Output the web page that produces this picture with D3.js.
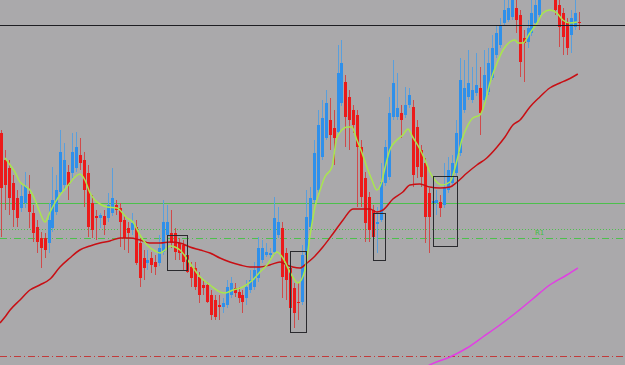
<!DOCTYPE html>
<html>
<head>
<meta charset="utf-8">
<script src="https://cdn.jsdelivr.net/npm/d3@7"></script>
<style>
  body { margin: 0; background: #aaa9ab; }
  svg { display: block; }
</style>
</head>
<body>
<div id="chart"></div>
<script>

// candle data, one entry per bar (price units)
var open_ = [232,205,197,182,167,157,162,171,152,138,127,127,122,137,153,173,180,193,192,197,
  210,205,192,162,149,147,149,147,152,160,157,145,137,135,138,122,107,102,107,103,
  102,113,130,132,132,122,120,110,98,97,88,80,80,70,65,60,58,60,70,77,
  73,70,67,75,78,87,105,110,110,113,130,137,112,97,77,63,63,110,138,165,
  175,208,227,245,237,233,262,283,268,255,250,218,187,168,155,141,145,182,188,248,
  248,252,250,260,258,238,215,202,172,162,162,163,160,175,182,192,212,255,268,265,
  272,277,265,273,287,310,320,342,345,348,357,350,327,323,332,342,350,370,375,385,
  370,360,352,343,330,338,343];
var high_ = [235,215,205,190,175,180,193,190,160,145,133,132,162,198,190,235,222,200,232,233,
  227,213,200,170,155,152,155,172,197,165,162,150,143,152,145,127,115,115,113,110,
  130,165,160,155,137,127,125,115,103,103,93,85,83,75,70,70,67,85,88,82,
  78,75,85,95,103,128,125,122,117,168,158,143,117,102,82,82,120,175,178,225,
  255,265,275,267,255,320,325,290,275,260,255,225,193,173,160,158,202,225,268,305,
  292,260,278,277,265,245,220,207,177,180,175,170,202,208,210,245,307,305,315,298,
  312,298,315,317,330,340,347,365,370,373,365,355,335,345,370,370,375,390,395,390,
  375,365,357,347,355,365,353];
var low_ = [128,155,150,138,138,153,157,137,123,112,97,107,112,133,150,170,175,165,187,193,
  195,158,128,127,125,137,130,143,149,150,118,115,112,130,100,78,85,95,92,90,
  99,110,128,117,105,105,95,92,78,75,62,70,62,45,45,45,52,57,67,68,
  62,52,60,72,75,83,102,108,107,110,127,67,65,53,37,45,60,107,135,162,
  172,205,225,215,200,230,259,218,215,232,158,158,123,123,122,112,143,179,185,245,
  245,227,247,257,178,187,178,122,112,148,150,148,157,172,179,189,209,252,265,262,
  269,230,262,270,285,307,317,339,343,345,332,288,283,317,329,339,347,367,368,366,
  350,318,310,310,312,335,335];
var close_ = [177,180,167,155,147,169,179,153,132,123,117,115,145,165,175,213,205,180,213,218,
  202,175,138,135,147,150,140,160,167,155,143,127,132,142,102,87,97,105,100,98,
  117,143,143,122,113,112,103,93,87,78,70,77,63,50,48,58,62,78,82,72,
  67,63,78,85,95,117,117,113,112,147,143,88,85,57,52,62,110,148,167,212,
  240,247,262,230,227,292,302,248,245,240,218,168,142,135,128,143,183,218,252,282,
  257,245,260,270,190,198,188,148,148,164,165,157,178,195,202,232,285,277,282,275,
  280,252,290,302,317,332,340,355,357,365,345,303,322,337,352,360,365,385,390,370,
  355,338,328,317,347,352,342];

// fast moving average (green), read as bar index / price pairs
var green_idx = [1.0,2.3,3.5,4.8,6.1,7.3,8.6,9.8,11.1,12.4,13.6,14.9,16.2,17.4,18.7,19.9,21.2,22.5,23.7,25.0,
  26.8,29.3,31.8,33.3,35.1,36.9,38.9,40.2,41.4,42.7,43.9,45.2,47.7,50.3,52.8,55.3,56.6,58.6,61.1,63.6,
  65.4,67.2,69.7,71.2,73.0,75.0,76.8,78.0,79.3,80.6,81.8,83.6,84.8,86.1,87.4,88.6,89.9,91.2,92.4,93.7,
  94.9,96.0,97.0,98.2,100.0,101.5,102.8,104.0,105.8,107.1,108.3,109.6,111.4,113.4,115.2,116.4,117.7,119.2,121.0,122.2,
  123.5,125.3,126.8,128.5,129.8,130.6,131.8,133.6,135.4,136.9,138.6,140.4,141.9,143.7,145.5];
var green_val = [207,200,193,183,179,175,165,153,143,153,162,170,176,182,188,191,185,172,165,161,
  158,157,147,143,130,120,114,112,115,119,118,115,102,88,80,73,72,75,78,85,
  93,100,113,107,93,82,95,128,158,175,188,198,227,235,238,238,225,212,198,185,
  175,181,197,215,225,230,236,228,216,205,193,185,180,183,205,225,238,247,250,262,
  282,302,315,323,325,322,322,332,342,352,355,352,345,342,343];

// slow moving average (red)
var red_idx = [-0.25,1.0,2.3,4.8,7.3,9.8,12.4,14.9,17.4,19.9,22.5,25.0,27.5,30.1,32.6,35.1,37.6,40.2,42.7,45.2,
  47.7,50.3,52.8,55.3,57.8,60.4,62.9,65.4,67.9,70.5,72.2,73.7,75.5,77.3,78.8,81.3,83.8,86.4,88.9,91.4,
  93.2,94.9,96.5,99.0,101.5,103.3,105.8,108.3,110.9,113.4,115.2,117.7,120.2,122.7,125.3,127.3,129.3,131.1,133.6,136.1,
  138.6,141.2,142.9,144.4,145.7];
var red_val = [42,48,55,65,75,80,86,98,107,115,119,122,124,127,127,125,122,122,123,122,
  118,115,112,107,103,100,98,98,100,103,100,98,97,102,107,118,131,145,156,156,
  156,153,155,166,173,180,181,178,177,178,183,192,200,207,218,228,240,245,258,268,
  277,282,285,288,291];

// very slow moving average (magenta)
var mag_idx = [107.1,108.3,113.4,117.7,121.7,126.0,130.3,134.3,138.6,142.9,145.7];
var mag_val = [-3,0,8,17,28,40,53,66,80,90,97];

// horizontal levels
var levels = [
  {price: 162, kind: "solid"},
  {price: 136, kind: "dot"},
  {price: 127, kind: "dashdot"}
];
var black_level = 340;
var red_level = 9;

// marked zones: first bar, last bar, top price, bottom price
var box_from = [42, 73, 94, 109];
var box_to = [47, 77, 97, 115];
var box_top = [130, 114, 152, 189];
var box_bottom = [95, 33, 105, 119];

var width = 625, height = 365;

var svg = d3.select("#chart").append("svg")
  .attr("width", width)
  .attr("height", height);

svg.append("rect")
  .attr("width", width)
  .attr("height", height)
  .attr("fill", "#aaa9ab");

var x = d3.scaleLinear().domain([0, open_.length - 1]).range([1, 579]);
var y = d3.scaleLinear().domain([0, 365]).range([365, 0]);

// green level lines
levels.forEach(function(l) {
  svg.append("line")
    .attr("x1", 0).attr("x2", width)
    .attr("y1", Math.round(y(l.price)) + 0.5).attr("y2", Math.round(y(l.price)) + 0.5)
    .attr("stroke", "#4cc04c")
    .attr("stroke-width", 1)
    .attr("stroke-dasharray", l.kind == "dot" ? "1,2" : (l.kind == "dashdot" ? "7,3,1,3" : null));
});

svg.append("text")
  .attr("x", 535)
  .attr("y", y(136) + 6)
  .attr("fill", "#44c044")
  .style("font-family", "DejaVu Sans, sans-serif")
  .style("font-size", "7px")
  .text("R1");

svg.append("line")
  .attr("x1", 0).attr("x2", width)
  .attr("y1", Math.round(y(red_level)) + 0.5).attr("y2", Math.round(y(red_level)) + 0.5)
  .attr("stroke", "#c23a3a")
  .attr("stroke-dasharray", "7,3,1,3");

// candles
var bars = d3.range(open_.length).map(function(i) {
  return {i: i, o: open_[i], h: high_[i], l: low_[i], c: close_[i]};
});

function col(d) { return d.c >= d.o ? "#2f90ea" : "#ec1a1a"; }
function wick(d) { return d.c >= d.o ? "#5a9fdc" : "#cf4a4a"; }

svg.selectAll(".wick").data(bars).enter().append("line")
  .attr("class", "wick")
  .attr("x1", function(d) { return Math.round(x(d.i)) + 0.5; })
  .attr("x2", function(d) { return Math.round(x(d.i)) + 0.5; })
  .attr("y1", function(d) { return y(d.h); })
  .attr("y2", function(d) { return y(d.l); })
  .attr("stroke", wick)
  .attr("stroke-width", 1);

svg.selectAll(".body").data(bars).enter().append("rect")
  .attr("class", "body")
  .attr("x", function(d) { return Math.round(x(d.i)) - 1; })
  .attr("width", 3)
  .attr("y", function(d) { return y(Math.max(d.o, d.c)); })
  .attr("height", function(d) { return Math.max(1, Math.abs(y(d.o) - y(d.c))); })
  .attr("fill", col);

// moving averages
function maLine(idx, val, color) {
  var pts = idx.map(function(v, k) { return [v, val[k]]; });
  svg.append("path")
    .datum(pts)
    .attr("fill", "none")
    .attr("stroke", color)
    .attr("stroke-width", 1.5)
    .attr("d", d3.line()
      .curve(d3.curveMonotoneX)
      .x(function(p) { return x(p[0]); })
      .y(function(p) { return y(p[1]); }));
}
maLine(red_idx, red_val, "#c80f14");
maLine(green_idx, green_val, "#a9e64e");
maLine(mag_idx, mag_val, "#e23ee4");

// black line
svg.append("line")
  .attr("x1", 0).attr("x2", width)
  .attr("y1", y(black_level) + 0.5).attr("y2", y(black_level) + 0.5)
  .attr("stroke", "#1e1e22")
  .attr("stroke-width", 1.2);

// zone boxes
box_from.forEach(function(b, k) {
  svg.append("rect")
    .attr("x", Math.round(x(b)) + 0.5)
    .attr("y", Math.round(y(box_top[k])) + 0.5)
    .attr("width", Math.round(x(box_to[k]) - x(b)))
    .attr("height", Math.round(y(box_bottom[k]) - y(box_top[k])))
    .attr("fill", "none")
    .attr("stroke", "#2a2a2e")
    .attr("stroke-width", 1);
});

</script>
</body>
</html>
